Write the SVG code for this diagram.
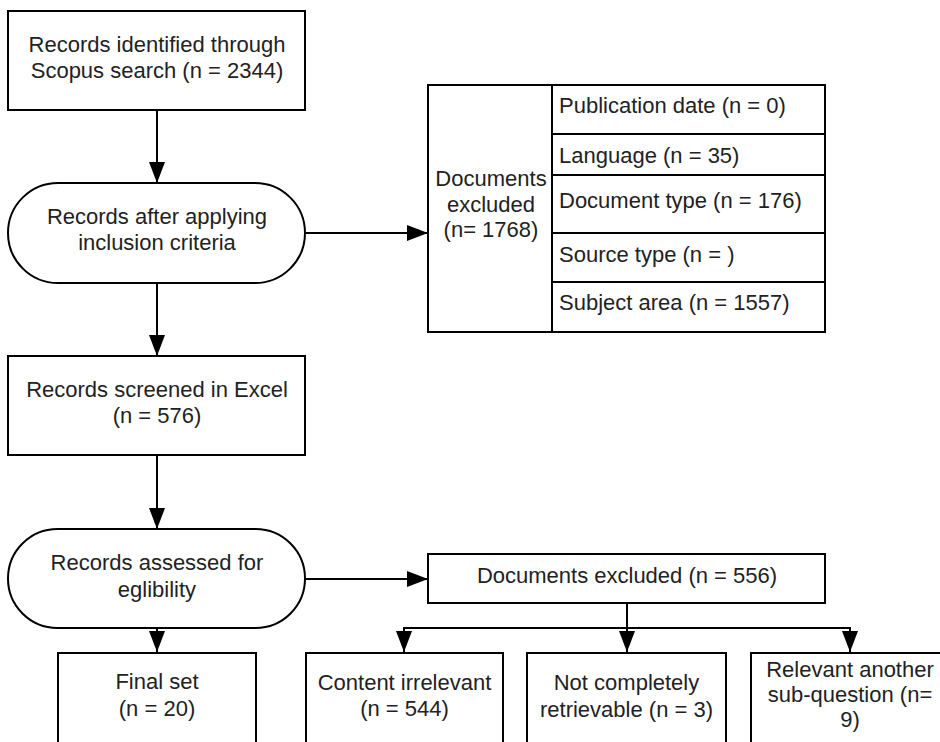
<svg xmlns="http://www.w3.org/2000/svg" width="940" height="742" viewBox="0 0 940 742">
<style>
.box{fill:#fff;stroke:#000;stroke-width:2}
.ln{fill:none;stroke:#000;stroke-width:2}
text{font-family:"Liberation Sans",Arial,sans-serif;font-size:22px;fill:#222}
.c{text-anchor:middle}
</style>
<defs>
<marker id="ah" viewBox="0 0 21 16" refX="21" refY="8" markerWidth="21" markerHeight="16" markerUnits="userSpaceOnUse" orient="auto">
<path d="M0,0 L21,8 L0,16 z" fill="#000"/>
</marker>
</defs>
<g id="connectors">
<line class="ln" x1="157" y1="110" x2="157" y2="183" marker-end="url(#ah)"/>
<line class="ln" x1="305" y1="233" x2="428" y2="233" marker-end="url(#ah)"/>
<line class="ln" x1="157" y1="283" x2="157" y2="356" marker-end="url(#ah)"/>
<line class="ln" x1="157" y1="455" x2="157" y2="529" marker-end="url(#ah)"/>
<line class="ln" x1="305" y1="579" x2="428" y2="579" marker-end="url(#ah)"/>
<line class="ln" x1="157" y1="628" x2="157" y2="652" marker-end="url(#ah)"/>
<polyline class="ln" points="404,628 850,628 850,652" marker-end="url(#ah)"/>
<line class="ln" x1="404" y1="627" x2="404" y2="652" marker-end="url(#ah)"/>
<line class="ln" x1="627" y1="603" x2="627" y2="652" marker-end="url(#ah)"/>
</g>
<g id="n1">
<rect class="box" x="8" y="11" width="297" height="99"/>
<text class="c" x="157" y="52">Records identified through</text>
<text class="c" x="157" y="78">Scopus search (n = 2344)</text>
</g>
<g id="n2">
<rect class="box" x="8" y="183" width="297" height="100" rx="50" ry="50"/>
<text class="c" x="157" y="224">Records after applying</text>
<text class="c" x="157" y="250">inclusion criteria</text>
</g>
<g id="n3">
<rect class="box" x="428" y="85" width="397" height="247"/>
<line class="ln" x1="552" y1="85" x2="552" y2="332"/>
<line class="ln" x1="552" y1="134" x2="825" y2="134"/>
<line class="ln" x1="552" y1="175" x2="825" y2="175"/>
<line class="ln" x1="552" y1="233" x2="825" y2="233"/>
<line class="ln" x1="552" y1="282" x2="825" y2="282"/>
<text class="c" x="491" y="186">Documents</text>
<text class="c" x="491" y="212">excluded</text>
<text class="c" x="491" y="237">(n= 1768)</text>
<text x="559" y="113">Publication date (n = 0)</text>
<text x="559" y="163">Language (n = 35)</text>
<text x="559" y="208">Document type (n = 176)</text>
<text x="559" y="262">Source type (n = )</text>
<text x="559" y="310">Subject area (n = 1557)</text>
</g>
<g id="n4">
<rect class="box" x="8" y="356" width="297" height="99"/>
<text class="c" x="157" y="397">Records screened in Excel</text>
<text class="c" x="157" y="423">(n = 576)</text>
</g>
<g id="n5">
<rect class="box" x="8" y="529" width="297" height="99" rx="49.5" ry="49.5"/>
<text class="c" x="157" y="570">Records assessed for</text>
<text class="c" x="157" y="597">eglibility</text>
</g>
<g id="n6">
<rect class="box" x="428" y="554" width="397" height="49"/>
<text class="c" x="627" y="583">Documents excluded (n = 556)</text>
</g>
<g id="n7">
<rect class="box" x="58" y="653" width="198" height="100"/>
<text class="c" x="157" y="689">Final set</text>
<text class="c" x="157" y="716">(n = 20)</text>
</g>
<g id="n8">
<rect class="box" x="306" y="653" width="197" height="100"/>
<text class="c" x="404.5" y="690">Content irrelevant</text>
<text class="c" x="404.5" y="716">(n = 544)</text>
</g>
<g id="n9">
<rect class="box" x="527" y="653" width="199" height="100"/>
<text class="c" x="626.5" y="690">Not completely</text>
<text class="c" x="626.5" y="717">retrievable (n = 3)</text>
</g>
<g id="n10">
<rect class="box" x="751" y="653" width="198" height="100"/>
<text class="c" x="850" y="677">Relevant another</text>
<text class="c" x="850" y="702">sub-question (n=</text>
<text class="c" x="850" y="727">9)</text>
</g>
</svg>
